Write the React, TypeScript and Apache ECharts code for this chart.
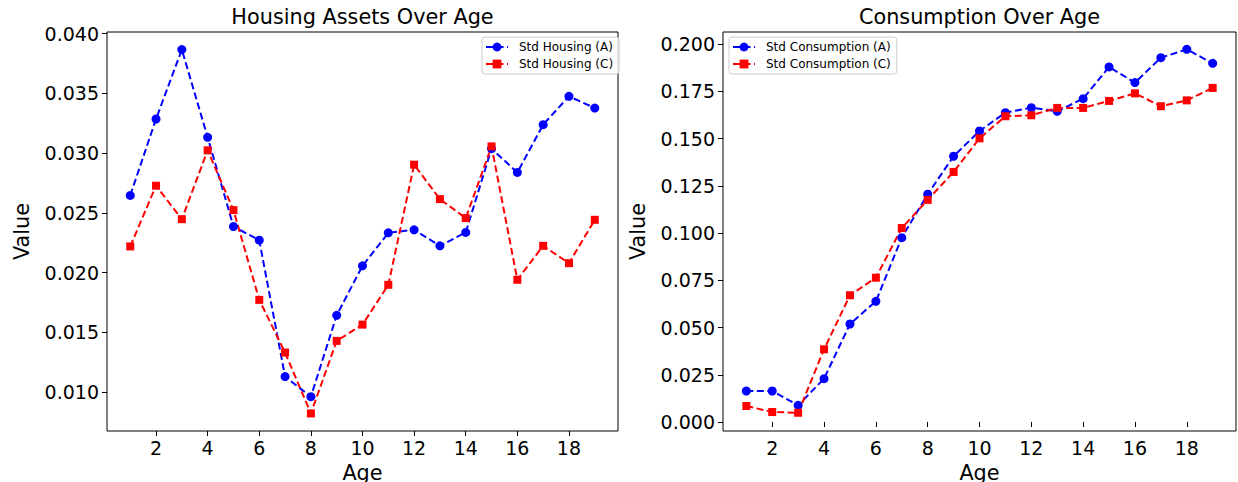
import React, { useEffect, useRef } from "react";
import * as echarts from "echarts";

// Age periods on the x axis
const ages = [1, 2, 3, 4, 5, 6, 7, 8, 9, 10, 11, 12, 13, 14, 15, 16, 17, 18, 19];

// Standard deviation of housing assets by age
const housingA = [
  0.02646, 0.03285, 0.03866, 0.03132, 0.02386, 0.02271, 0.0113, 0.00962, 0.01643, 0.02057,
  0.02333, 0.02358, 0.02224, 0.02336, 0.03037, 0.02838, 0.03238, 0.03475, 0.03377,
];
const housingC = [
  0.02219, 0.02727, 0.02447, 0.03023, 0.02523, 0.01772, 0.01331, 0.00822, 0.01429, 0.01565,
  0.01898, 0.02903, 0.02615, 0.02456, 0.03056, 0.0194, 0.02224, 0.02079, 0.02442,
];

// Standard deviation of consumption by age
const consumptionA = [
  0.01642, 0.01642, 0.00884, 0.02293, 0.05189, 0.06391, 0.09759, 0.1206, 0.1407, 0.1541,
  0.1638, 0.1664, 0.1645, 0.1712, 0.188, 0.1797, 0.1929, 0.1973, 0.1899,
];
const consumptionC = [
  0.00847, 0.0053, 0.0049, 0.0385, 0.0671, 0.0764, 0.1027, 0.1176, 0.1324, 0.1502,
  0.1619, 0.1624, 0.1663, 0.1663, 0.17, 0.174, 0.1672, 0.1703, 0.1769,
];

// Tick positions
const ageTicks = [2, 4, 6, 8, 10, 12, 14, 16, 18];
const housingTicks = [0.01, 0.015, 0.02, 0.025, 0.03, 0.035, 0.04];
const consumptionTicks = [0, 0.025, 0.05, 0.075, 0.1, 0.125, 0.15, 0.175, 0.2];

const FONT = "DejaVu Sans";
const BLUE = "#0000ff";
const RED = "#ff0000";

const pairs = (ys: number[]) => ages.map((a, i) => [a, ys[i]]);

function xAxisFor(gridIndex: number) {
  return {
    type: "value" as const,
    gridIndex,
    min: 0.1,
    max: 19.9,
    name: "Age",
    nameLocation: "middle" as const,
    nameGap: 31,
    nameTextStyle: { fontFamily: FONT, fontSize: 20.8, color: "#000" },
    axisLine: { show: false },
    splitLine: { show: false },
    axisTick: {
      show: true,
      inside: false,
      length: 5,
      customValues: ageTicks,
      lineStyle: { color: "#000", width: 1 },
    },
    axisLabel: {
      customValues: ageTicks,
      margin: 7,
      fontFamily: FONT,
      fontSize: 19,
      color: "#000",
      formatter: (v: number) => String(v),
    },
  };
}

function yAxisFor(gridIndex: number, min: number, max: number, ticks: number[]) {
  return {
    type: "value" as const,
    gridIndex,
    min,
    max,
    name: "Value",
    nameLocation: "middle" as const,
    nameGap: 75,
    nameTextStyle: { fontFamily: FONT, fontSize: 20.8, color: "#000" },
    axisLine: { show: false },
    splitLine: { show: false },
    axisTick: {
      show: true,
      inside: false,
      length: 5,
      customValues: ticks,
      lineStyle: { color: "#000", width: 1 },
    },
    axisLabel: {
      customValues: ticks,
      margin: 8,
      fontFamily: FONT,
      fontSize: 19,
      color: "#000",
      formatter: (v: number) => v.toFixed(3),
    },
  };
}

function lineSeries(
  name: string,
  ys: number[],
  color: string,
  symbol: string,
  symbolSize: number,
  axisIndex: number
) {
  return {
    type: "line" as const,
    name,
    xAxisIndex: axisIndex,
    yAxisIndex: axisIndex,
    data: pairs(ys),
    symbol,
    symbolSize,
    showAllSymbol: true,
    color,
    itemStyle: { color },
    lineStyle: { color, width: 2, type: [7, 3.5] as number[] },
    emphasis: { disabled: true },
  };
}

function legendAt(left: number, names: string[]) {
  return {
    orient: "vertical" as const,
    left,
    top: 37,
    data: names,
    itemWidth: 22,
    itemHeight: 11,
    itemGap: 3,
    padding: [3, 6, 3, 3],
    borderColor: "#cccccc",
    borderWidth: 1,
    borderRadius: 3,
    backgroundColor: "rgba(255,255,255,0.8)",
    selectedMode: false,
    textStyle: {
      fontFamily: FONT,
      fontSize: 12,
      color: "#000",
      lineHeight: 14,
      padding: [0, 0, 0, 6],
    },
  };
}

export default function App() {
  const ref = useRef<HTMLDivElement>(null);

  useEffect(() => {
    if (!ref.current) return;
    const chart = echarts.init(ref.current, undefined, { renderer: "svg" });
    chart.setOption({
      animation: false,
      backgroundColor: "#ffffff",
      textStyle: { fontFamily: FONT },
      grid: [
        {
          left: 107,
          top: 32,
          width: 511,
          height: 399,
          outerBoundsMode: "none",
          containLabel: false,
          show: true,
          borderColor: "#000",
          borderWidth: 1,
          backgroundColor: "transparent",
        },
        {
          left: 723,
          top: 32,
          width: 513,
          height: 399,
          outerBoundsMode: "none",
          containLabel: false,
          show: true,
          borderColor: "#000",
          borderWidth: 1,
          backgroundColor: "transparent",
        },
      ],
      xAxis: [xAxisFor(0), xAxisFor(1)],
      yAxis: [
        yAxisFor(0, 0.00675, 0.04013, housingTicks),
        yAxisFor(1, -0.00477, 0.2065, consumptionTicks),
      ],
      legend: [
        legendAt(482, ["Std Housing (A)", "Std Housing (C)"]),
        legendAt(729, ["Std Consumption (A)", "Std Consumption (C)"]),
      ],
      graphic: [
        {
          type: "text",
          x: 362.5,
          y: 17,
          style: {
            text: "Housing Assets Over Age",
            fontFamily: FONT,
            fontSize: 20.8,
            fill: "#000",
            textAlign: "center",
            textVerticalAlign: "middle",
          },
        },
        {
          type: "text",
          x: 979.5,
          y: 17,
          style: {
            text: "Consumption Over Age",
            fontFamily: FONT,
            fontSize: 20.8,
            fill: "#000",
            textAlign: "center",
            textVerticalAlign: "middle",
          },
        },
      ],
      series: [
        lineSeries("Std Housing (A)", housingA, BLUE, "circle", 9, 0),
        lineSeries("Std Housing (C)", housingC, RED, "rect", 8, 0),
        lineSeries("Std Consumption (A)", consumptionA, BLUE, "circle", 9, 1),
        lineSeries("Std Consumption (C)", consumptionC, RED, "rect", 8, 1),
      ],
    });
    return () => chart.dispose();
  }, []);

  return (
    <div
      ref={ref}
      style={{ position: "fixed", left: 0, top: 0, width: 1238, height: 482, background: "#fff" }}
    />
  );
}
